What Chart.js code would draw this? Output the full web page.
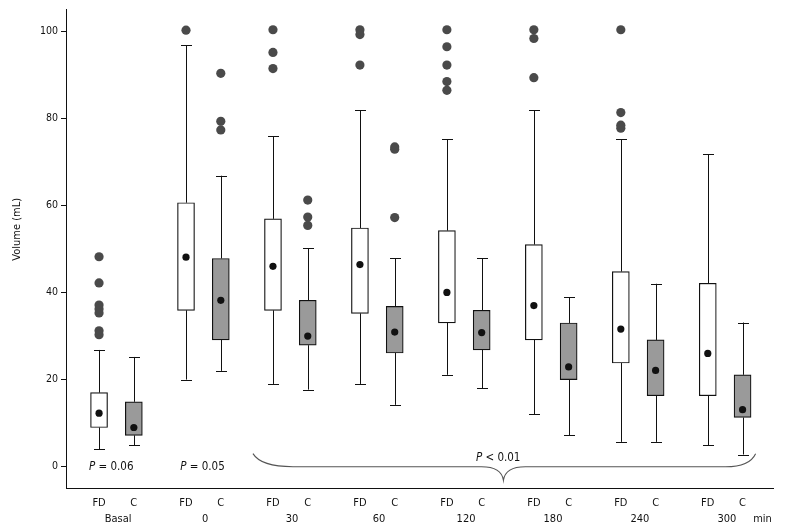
<!DOCTYPE html>
<html>
<head>
<meta charset="utf-8">
<script src="https://cdn.jsdelivr.net/npm/chart.js@4"></script>
<style>
html,body{margin:0;padding:0;background:#fff;}
#wrap{width:787px;height:528px;position:relative;}
</style>
</head>
<body>
<div id="wrap"><canvas id="c" width="787" height="528"></canvas></div>
<script>
// ---- data ----
const groups = ['Basal', '0', '30', '60', '120', '180', '240', '300'];
const subLabels = ['FD', 'C'];
const yTicks = [0, 20, 40, 60, 80, 100];

const fdLow  = [4.0, 20.0, 19.0, 19.0, 21.1, 12.0, 5.7, 4.9];
const fdQ1   = [9.0, 35.9, 35.9, 35.2, 33.0, 29.1, 23.8, 16.3];
const fdQ3   = [17.0, 60.6, 56.9, 54.8, 54.2, 51.0, 44.8, 42.1];
const fdHigh = [26.8, 96.8, 75.9, 81.8, 75.2, 81.8, 75.2, 71.7];
const fdMean = [12.3, 48.1, 46.0, 46.4, 40.0, 37.0, 31.6, 26.0];
const fdOutliers = [
  [48.2, 42.2, 37.1, 36.2, 35.3, 31.2, 30.3],
  [100.2],
  [100.3, 95.1, 91.4],
  [100.3, 99.2, 92.2],
  [100.3, 96.4, 92.2, 88.4, 86.4],
  [100.3, 98.3, 89.3],
  [100.3, 81.3, 78.4, 77.7],
  []
];

const cLow  = [4.9, 22.0, 17.7, 14.2, 18.0, 7.2, 5.7, 2.8];
const cQ1   = [7.2, 29.1, 27.9, 26.1, 26.8, 20.0, 16.3, 11.3];
const cQ3   = [14.9, 47.8, 38.2, 36.8, 35.9, 33.0, 29.1, 21.1];
const cHigh = [25.2, 66.8, 50.1, 47.8, 47.8, 38.9, 42.0, 33.1];
const cMean = [9.0, 38.2, 30.0, 30.9, 30.8, 22.9, 22.1, 13.1];
const cOutliers = [
  [],
  [90.3, 79.3, 77.3],
  [61.2, 57.3, 55.4],
  [73.4, 72.9, 57.2],
  [],
  [],
  [],
  []
];

const pLabels = ['= 0.06', '= 0.05', '< 0.01'];
const unitLabel = 'min';
const yTitle = 'Volume (mL)';

// ---- layout helpers (x index positions) ----
const C_OFF = 0.4;      // C box offset from FD within a group
const G_OFF = 0.22;     // group label offset
const FONT = '"DejaVu Sans Condensed", "DejaVu Sans", Verdana, sans-serif';

function pts(vals, off) {
  const out = [];
  vals.forEach((v, i) => out.push({x: i + off, y: v}));
  return out;
}
function outPts(arr, off) {
  const out = [];
  arr.forEach((list, i) => list.forEach(v => out.push({x: i + off, y: v})));
  return out;
}
function boxPts(lo, hi, off) {
  return lo.map((v, i) => ({x: i + off, y: [v, hi[i]]}));
}

// x ticks
const xTickDefs = [];
groups.forEach((g, i) => {
  xTickDefs.push({value: i, label: [subLabels[0]]});
  xTickDefs.push({value: i + G_OFF, label: ['', g]});
  xTickDefs.push({value: i + C_OFF, label: [subLabels[1]]});
});
xTickDefs.push({value: 7.63, label: ['', unitLabel]});

const whiskerPlugin = {
  id: 'whiskers',
  beforeDatasetsDraw(chart) {
    const {ctx, scales: {x, y}} = chart;
    ctx.save();
    ctx.strokeStyle = '#111';
    ctx.lineWidth = 1;
    const cap = 5.5;
    const draw = (lo, q1, q3, hi, off) => {
      lo.forEach((v, i) => {
        const px = Math.round(x.getPixelForValue(i + off)) + 0.5;
        const pl = y.getPixelForValue(v), p1 = y.getPixelForValue(q1[i]);
        const p3 = y.getPixelForValue(q3[i]), ph = y.getPixelForValue(hi[i]);
        ctx.beginPath();
        ctx.moveTo(px, pl); ctx.lineTo(px, p1);
        ctx.moveTo(px, p3); ctx.lineTo(px, ph);
        ctx.moveTo(px - cap, Math.round(pl) + 0.5); ctx.lineTo(px + cap, Math.round(pl) + 0.5);
        ctx.moveTo(px - cap, Math.round(ph) + 0.5); ctx.lineTo(px + cap, Math.round(ph) + 0.5);
        ctx.stroke();
      });
    };
    draw(fdLow, fdQ1, fdQ3, fdHigh, 0);
    draw(cLow, cQ1, cQ3, cHigh, C_OFF);
    ctx.restore();
  }
};

const annotPlugin = {
  id: 'annot',
  afterDraw(chart) {
    const {ctx, scales: {x, y}} = chart;
    ctx.save();
    // y title
    ctx.fillStyle = '#111';
    ctx.font = '11px ' + FONT;
    ctx.translate(17, y.getPixelForValue(54.5));
    ctx.rotate(-Math.PI / 2);
    ctx.textAlign = 'center';
    ctx.textBaseline = 'middle';
    ctx.fillText(yTitle, 0, 0);
    ctx.restore();

    // P labels
    const drawP = (cx, cy, rest) => {
      ctx.save();
      ctx.fillStyle = '#111';
      ctx.textBaseline = 'middle';
      ctx.font = 'italic 11.5px ' + FONT;
      const wP = ctx.measureText('P').width;
      ctx.font = '11.5px ' + FONT;
      const wR = ctx.measureText(' ' + rest).width;
      const start = cx - (wP + wR) / 2;
      ctx.font = 'italic 11.5px ' + FONT;
      ctx.fillText('P', start, cy);
      ctx.font = '11.5px ' + FONT;
      ctx.fillText(' ' + rest, start + wP, cy);
      ctx.restore();
    };
    drawP(x.getPixelForValue(0.14), y.getPixelForValue(0), pLabels[0]);
    drawP(x.getPixelForValue(1.19), y.getPixelForValue(0), pLabels[1]);
    drawP(x.getPixelForValue(4.59), y.getPixelForValue(2), pLabels[2]);

    // brace
    const x0 = x.getPixelForValue(1.77), x1 = x.getPixelForValue(7.55);
    const xm = x.getPixelForValue(4.65);
    const yTop = y.getPixelForValue(3), yLine = y.getPixelForValue(0), yTip = y.getPixelForValue(-3.1);
    ctx.save();
    ctx.strokeStyle = '#555';
    ctx.lineWidth = 1.1;
    ctx.beginPath();
    ctx.moveTo(x0, yTop);
    ctx.quadraticCurveTo(x0 + 8, yLine, x0 + 40, yLine);
    ctx.lineTo(xm - 22, yLine);
    ctx.quadraticCurveTo(xm - 2, yLine, xm, yTip);
    ctx.quadraticCurveTo(xm + 2, yLine, xm + 22, yLine);
    ctx.lineTo(x1 - 30, yLine);
    ctx.quadraticCurveTo(x1 - 6, yLine, x1, yTop);
    ctx.stroke();
    ctx.restore();
  }
};

new Chart(document.getElementById('c'), {
  type: 'bar',
  data: {
    datasets: [
      {type: 'scatter', label: 'FD outliers', data: outPts(fdOutliers, 0), backgroundColor: '#4a4a4a', borderColor: '#4a4a4a', pointRadius: 4.6, borderWidth: 0, order: 1},
      {type: 'scatter', label: 'C outliers', data: outPts(cOutliers, C_OFF), backgroundColor: '#4a4a4a', borderColor: '#4a4a4a', pointRadius: 4.6, borderWidth: 0, order: 1},
      {type: 'scatter', label: 'FD mean', data: pts(fdMean, 0), backgroundColor: '#111', borderColor: '#111', pointRadius: 3.6, borderWidth: 0, order: 0},
      {type: 'scatter', label: 'C mean', data: pts(cMean, C_OFF), backgroundColor: '#111', borderColor: '#111', pointRadius: 3.6, borderWidth: 0, order: 0},
      {label: 'FD', data: boxPts(fdQ1, fdQ3, 0), backgroundColor: '#ffffff', borderColor: '#111', borderWidth: 1.2, borderSkipped: false, barThickness: 17, grouped: false, order: 3},
      {label: 'C', data: boxPts(cQ1, cQ3, C_OFF), backgroundColor: '#9a9a9a', borderColor: '#111', borderWidth: 1.2, borderSkipped: false, barThickness: 17, grouped: false, order: 3}
    ]
  },
  options: {
    responsive: false,
    animation: false,
    events: [],
    layout: {padding: {top: 7, right: 14, left: 0, bottom: 0}},
    plugins: {legend: {display: false}, tooltip: {enabled: false}},
    scales: {
      x: {
        type: 'linear',
        min: -0.38, max: 7.75,
        offset: false,
        grid: {display: true, drawOnChartArea: false, drawTicks: false, color: '#111'},
        border: {display: true, color: '#111', width: 1},
        afterBuildTicks(s) { s.ticks = xTickDefs.map(t => ({value: t.value})); },
        afterFit(s) { s.height = 39.5; },
        ticks: {
          autoSkip: false, maxRotation: 0, minRotation: 0, padding: 6,
          color: '#111',
          font: {family: FONT, size: 11, lineHeight: 1.5},
          callback(v, i) { return xTickDefs[i] ? xTickDefs[i].label : ''; }
        }
      },
      y: {
        type: 'linear',
        min: -5, max: 105,
        grid: {display: true, drawOnChartArea: false, drawTicks: true, tickLength: 5, color: '#111'},
        border: {display: true, color: '#111', width: 1},
        afterBuildTicks(s) { s.ticks = yTicks.map(v => ({value: v})); },
        afterFit(s) { s.width = 66; },
        ticks: {
          padding: 3, color: '#111',
          font: {family: FONT, size: 10.5},
          callback(v) { return String(v); }
        }
      }
    }
  },
  plugins: [whiskerPlugin, annotPlugin]
});
</script>
</body>
</html>
